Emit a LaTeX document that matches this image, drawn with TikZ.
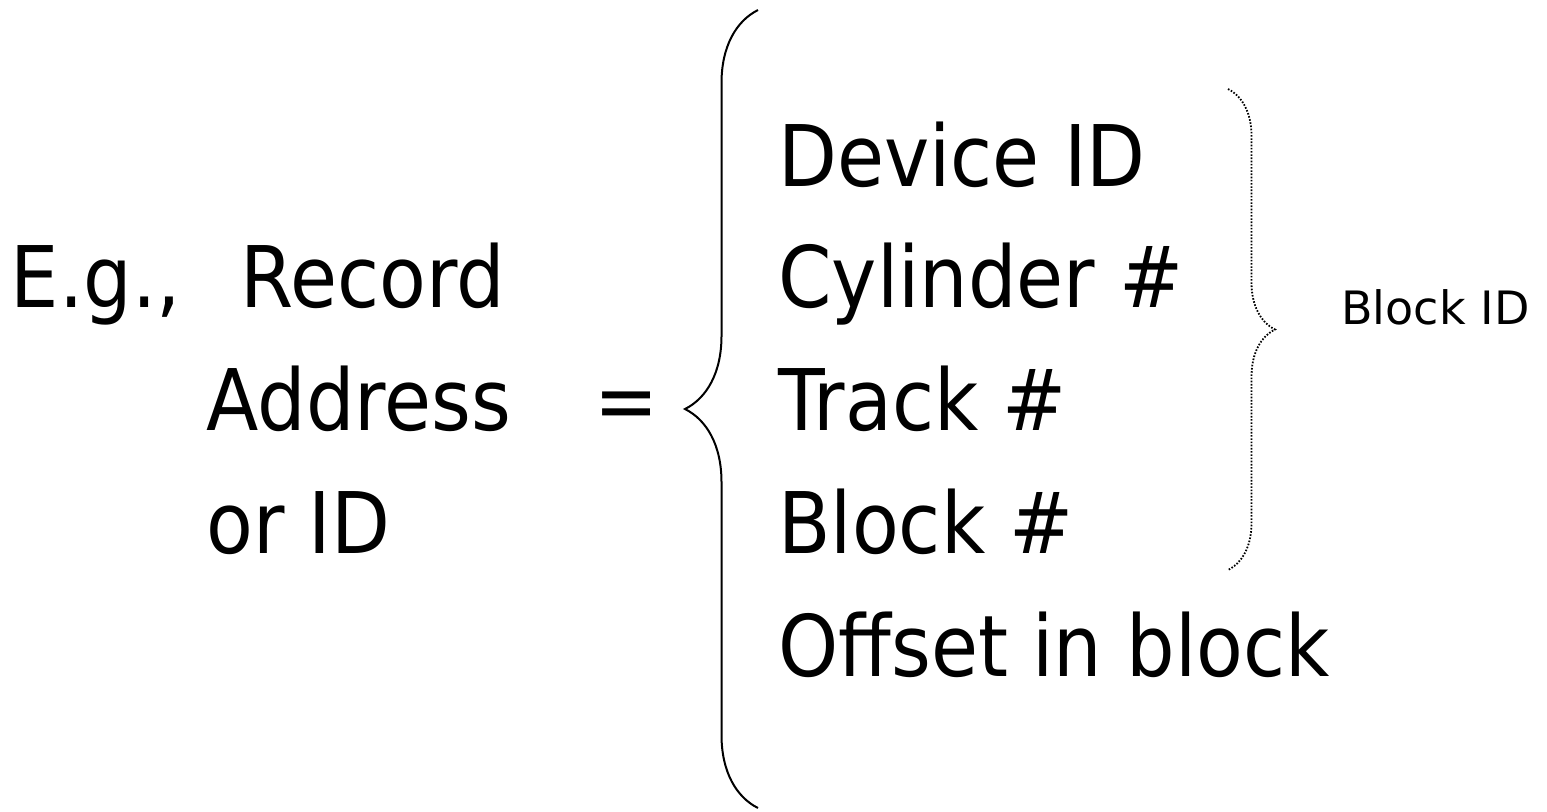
\documentclass[tikz,border=0pt]{standalone}
\usepackage{fontspec}
\newfontfamily\slidefont{DejaVu Sans}[FakeStretch=0.9]
\newfontfamily\notefont{DejaVu Sans}
\usepackage{tikz}
\usetikzlibrary{calc,positioning,decorations.pathreplacing}

\begin{document}
\begin{tikzpicture}[x=0.5pt,y=-0.5pt,
    word/.style={anchor=base west,inner sep=0pt,font=\slidefont\fontsize{42.5}{51}\selectfont},
    note/.style={anchor=base west,inner sep=0pt,font=\notefont\fontsize{23}{28}\selectfont}]
    \useasboundingbox (0,0) rectangle (1547,811);
    % left hand side
    \node[word] (eg) at (10.5,307) {E.g.,};
    \node[word] (record) at (240,307) {Record};
    \node[word] (address) at (206,430) {Address};
    \node[word] (orid) at (206,553) {or ID};
    \node[word] (equals) at (594,430) {=};
    % fields of the address
    \node[word] (device) at (778,186) {Device ID};
    \node[word] (cylinder) at (778,307) {Cylinder \#};
    \node[word] (track) at (778,430) {Track \#};
    \node[word] (block) at (778,553) {Block \#};
    \node[word] (offset) at (778,676) {Offset in block};
    \node[note] (blockid) at (1341,324) {Block ID};
    %
    \coordinate (big_bottom) at (758,808);
    \coordinate (big_top) at (758,10);
    \coordinate (small_top) at (1228,89);
    \coordinate (small_bottom) at (1228,570);
    %
    \draw [decorate,decoration={brace,amplitude=36.5pt},line width=1pt]
        (big_bottom) -- (big_top);
    \draw [decorate,decoration={brace,amplitude=23.5pt},line width=0.9pt,dash pattern=on 0.8pt off 0.8pt]
        (small_top) -- (small_bottom);
\end{tikzpicture}
\end{document}
